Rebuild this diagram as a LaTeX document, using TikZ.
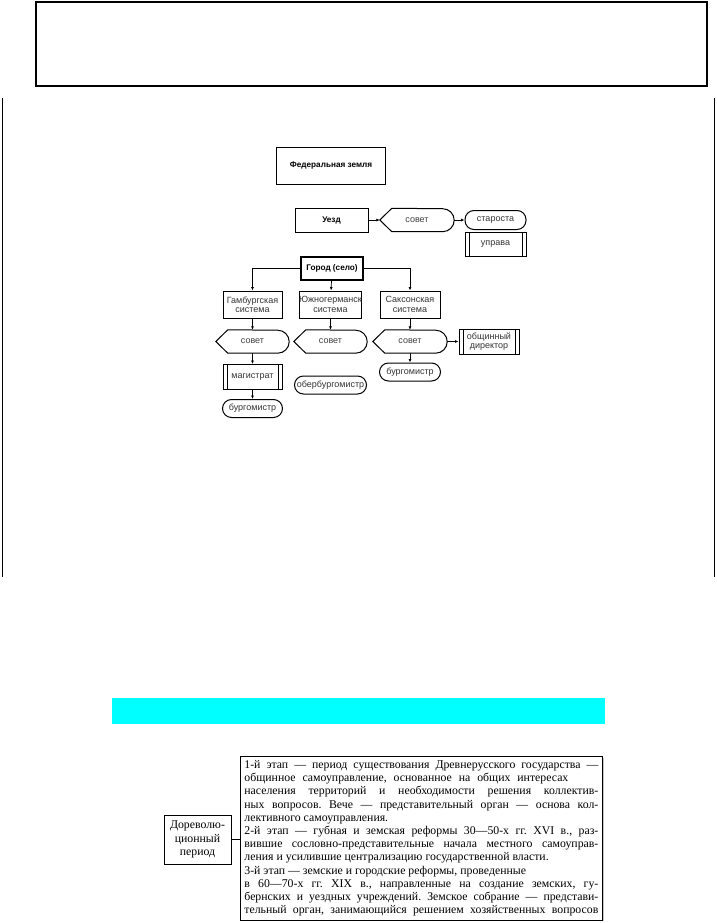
\documentclass[tikz,border=0pt]{standalone}
\usepackage{fontspec}
\setmainfont{Liberation Serif}
\setsansfont{Liberation Sans}
\usetikzlibrary{shapes,arrows.meta,positioning,shadows}

\definecolor{barcyan}{RGB}{0,255,255}
\newcommand{\schemefont}{\sffamily\fontsize{9}{9.5}\selectfont}
\newcommand{\headfont}{\sffamily\bfseries\fontsize{8.2}{9.5}\selectfont}
\newcommand{\bookfont}{\rmfamily\fontsize{11.8}{13.2}\selectfont\frenchspacing}
\newcommand{\jl}[2][354pt]{\hbox to 354pt{\hbox to #1{#2}\hfil}}
\newcommand{\rl}[1]{\hbox to 354pt{#1\hfil}}

\begin{document}
\begin{tikzpicture}[x=1pt, y=-1pt, on grid,
  >={Latex[length=3.5pt, width=3pt]},
  arr/.style = {->, line width=0.7pt},
  box/.style = {draw, line width=1pt, inner sep=0pt, align=center, font=\schemefont, text=black!80},
  head/.style = {box, font=\headfont, text=black},
  sovet/.style = {inner sep=0pt, minimum width=74pt, minimum height=23pt, font=\schemefont, text=black!75},
  term/.style = {box, rounded corners=9pt, minimum width=61pt, minimum height=18pt},
  proc/.style = {box, path picture={
      \draw[line width=0.6pt] ([xshift=4pt]path picture bounding box.north west) -- ([xshift=4pt]path picture bounding box.south west)
                              ([xshift=-4pt]path picture bounding box.north east) -- ([xshift=-4pt]path picture bounding box.south east);}},
  textbox/.style = {draw, line width=0.8pt, fill=white, font=\bookfont, drop shadow={shadow xshift=1.2pt, shadow yshift=-1.2pt, fill=black!45}}]
\useasboundingbox (0,0) rectangle (716,923);

% frames
\draw[line width=1.2pt] (36,2) rectangle (707,86);
\draw[line width=0.8pt] (2,98) -- (2,577);
\draw[line width=0.8pt] (714,98) -- (714,577);

% scheme
\node[head, minimum width=109pt, minimum height=37pt] (fed) at (331,165.5) {Федеральная земля};

\node[head, minimum width=73pt, minimum height=24pt] (uezd) at (331.5,220) {Уезд};
\node[sovet, right=85.5pt of uezd] (sovU) {совет};
\node[term, right=78.5pt of sovU, minimum height=19pt] (star) {староста};
\node[proc, below=24.5pt of star, minimum width=61pt, minimum height=24pt] (uprava) {управа};

\node[head, line width=1.3pt, minimum width=62pt, minimum height=23pt] (gorod) at (332,268.5) {Город (село)};
\node[box, minimum width=59pt, minimum height=27pt] (gam) at (252.5,304.5) {Гамбургская\\система};
\node[box, right=78pt of gam, minimum width=61pt, minimum height=27pt] (jug) {Южногерманск\\система};
\node[box, right=79.5pt of jug, minimum width=60pt, minimum height=27pt] (sax) {Саксонская\\система};

\node[sovet, below=37pt of gam, minimum width=73pt] (sovG) {совет};
\node[sovet, below=37pt of jug, minimum width=73pt] (sovJ) {совет};
\node[sovet, below=37pt of sax] (sovS) {совет};
\node[proc, right=79pt of sovS, minimum width=60pt, minimum height=25pt] (dir) {общинный\\директор};

\node[proc, below=35.5pt of sovG, minimum width=59pt, minimum height=25pt] (mag) {магистрат};
\node[term, below=31.5pt of mag, minimum width=60pt] (burG) {бургомистр};
\node[term, below=43.5pt of sovJ, minimum width=72pt] (ober) {обербургомистр};
\node[term, below=30.5pt of sovS] (burS) {бургомистр};

\foreach \s in {sovU,sovG,sovJ,sovS}
  \draw[line width=1pt] ([xshift=12pt]\s.north west) -- (\s.west) -- ([xshift=12pt]\s.south west)
    -- ([xshift=-11.5pt]\s.south east) arc[start angle=-90, end angle=90, radius=11.5pt] -- cycle;

\path (uezd) edge[arr] (sovU);
\path (sovU) edge[arr] (star);
\draw[arr] (gorod.west) -| (gam.north);
\draw[arr] (gorod.east) -| (sax.north);
\path (gorod) edge[arr] (jug);
\path (gam) edge[arr] (sovG);
\path (jug) edge[arr] (sovJ);
\path (sax) edge[arr] (sovS);
\path (sovS) edge[arr] (dir);
\path (sovG) edge[arr] (mag);
\path (mag) edge[arr] (burG);
\path (sovS) edge[arr] (burS);

% lower part
\fill[barcyan] (112,698) rectangle (605,724);

\node[textbox, anchor=north west, inner sep=4pt] (stages) at (240,756) {\vbox{%
\jl{1-й этап — период существования Древнерусского государства —}
\jl[324pt]{общинное самоуправление, основанное на общих интересах}
\jl{населения территорий и необходимости решения коллектив-}
\jl{ных вопросов. Вече — представительный орган — основа кол-}
\rl{лективного самоуправления.}
\jl{2-й этап — губная и земская реформы 30—50-х гг. XVI в., раз-}
\jl{вившие сословно-представительные начала местного самоуправ-}
\rl{ления и усилившие централизацию государственной власти.}
\rl{3-й этап — земские и городские реформы, проведенные}
\jl{в 60—70-х гг. XIX в., направленные на создание земских, гу-}
\jl{бернских и уездных учреждений. Земское собрание — представи-}
\jl{тельный орган, занимающийся решением хозяйственных вопросов}}};

\node[textbox, align=center, inner sep=2pt, minimum width=67pt, minimum height=49pt] (dorev) at (197.5,839.5) {Дореволю-\\ционный\\период};
\draw[line width=0.8pt] (dorev.east) -- (dorev.east -| stages.west);
\end{tikzpicture}
\end{document}
